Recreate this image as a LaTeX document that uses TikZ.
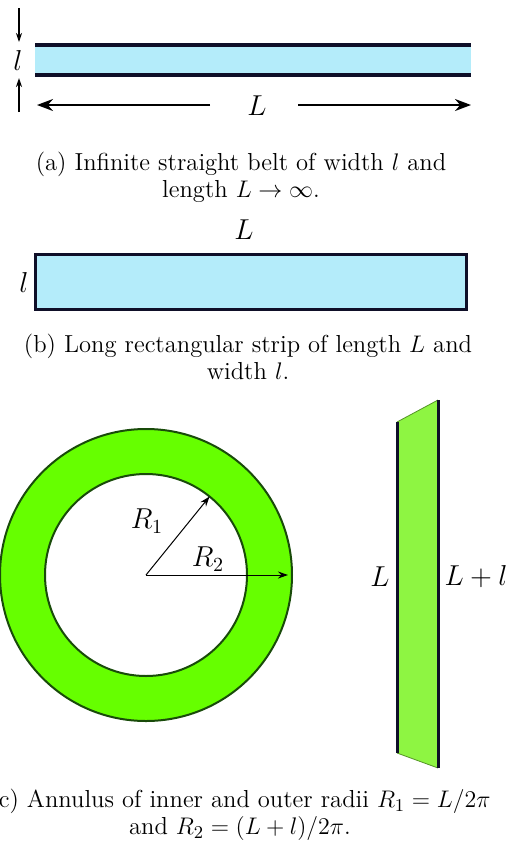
\documentclass[tikz,border=0pt]{standalone}
\usepackage{amsmath}
\usetikzlibrary{arrows.meta,positioning}
\definecolor{beltblue}{RGB}{180,236,250}
\definecolor{ringgreen}{RGB}{102,255,0}
\definecolor{stripgreen}{RGB}{142,245,66}
\definecolor{ringedge}{RGB}{25,75,10}
\definecolor{edgeblack}{RGB}{15,15,40}

\begin{document}
\begin{tikzpicture}[x=0.5pt,y=-0.5pt,
  edge/.style={line width=2pt, edgeblack},
  border/.style={line width=1.5pt, edgeblack},
  longarrow/.style={-{Stealth[length=8pt,width=6pt]}, line width=1pt},
  shortarrow/.style={-{Stealth[length=4.5pt,width=3pt]}, line width=0.6pt},
  radiusarrow/.style={-{Stealth[length=5pt,width=3.5pt]}, line width=0.5pt},
  lab/.style={font=\Large, inner sep=1pt},
  captext/.style={align=center, font=\fontsize{12.3}{13.5}\selectfont}]
\useasboundingbox (0,0) rectangle (509,842);

% (a) infinite belt
\fill[beltblue] (35,45) rectangle (471,75);
\draw[edge] (35,45) -- (471,45);
\draw[edge] (35,75) -- (471,75);
\node[lab] (wa) at (18,60) {$l$};
\coordinate (wtop) at (19,8);
\coordinate (wbot) at (19,112);
\draw[shortarrow] (wtop) -- (19,42);
\draw[shortarrow] (wbot) -- (19,78);
\node[lab] (La) at (257,106) {$L$};
\coordinate (Lleft) at (37,105);
\coordinate (Lright) at (471,105);
\draw[longarrow] (210,105) -- (Lleft);
\draw[longarrow] (298,105) -- (Lright);
\node[captext] (capa) at (241,177) {(a) Infinite straight belt of width $l$ and\\ length $L\to\infty$.};

% (b) rectangular strip
\filldraw[border, fill=beltblue] (35,254) rectangle (466,309);
\node[lab] (Lb) at (244,230) {$L$};
\node[lab] (wb) at (24,282) {$l$};
\node[captext] (capb) at (248,357) {(b) Long rectangular strip of length $L$ and\\ width $l$.};

% (c) annulus
\coordinate (O) at (146,575);
\filldraw[ringedge, line width=1pt, fill=ringgreen, even odd rule] (O) circle[radius=146] (O) circle[radius=101];
\draw[radiusarrow] (O) -- ++(-51:101);
\draw[radiusarrow] (O) -- (288,575);
\node[lab] (R1) at (147,521) {$R_1$};
\node[lab] (R2) at (208,559) {$R_2$};

% unrolled strip
\fill[stripgreen] (397,422) -- (438,400) -- (438,768) -- (397,753) -- cycle;
\draw[stripgreen!60!black, line width=0.4pt] (397,422) -- (438,400);
\draw[stripgreen!60!black, line width=0.4pt] (397,753) -- (438,768);
\draw[border] (397,422) -- (397,753);
\draw[border] (438,400) -- (438,768);
\node[lab] (Ls) at (380,577) {$L$};
\node[lab] (Lls) at (476,577) {$L+l$};
\node[captext] (capc) at (240,815) {(c) Annulus of inner and outer radii $R_1=L/2\pi$\\ and $R_2=(L+l)/2\pi$.};
\end{tikzpicture}
\end{document}
